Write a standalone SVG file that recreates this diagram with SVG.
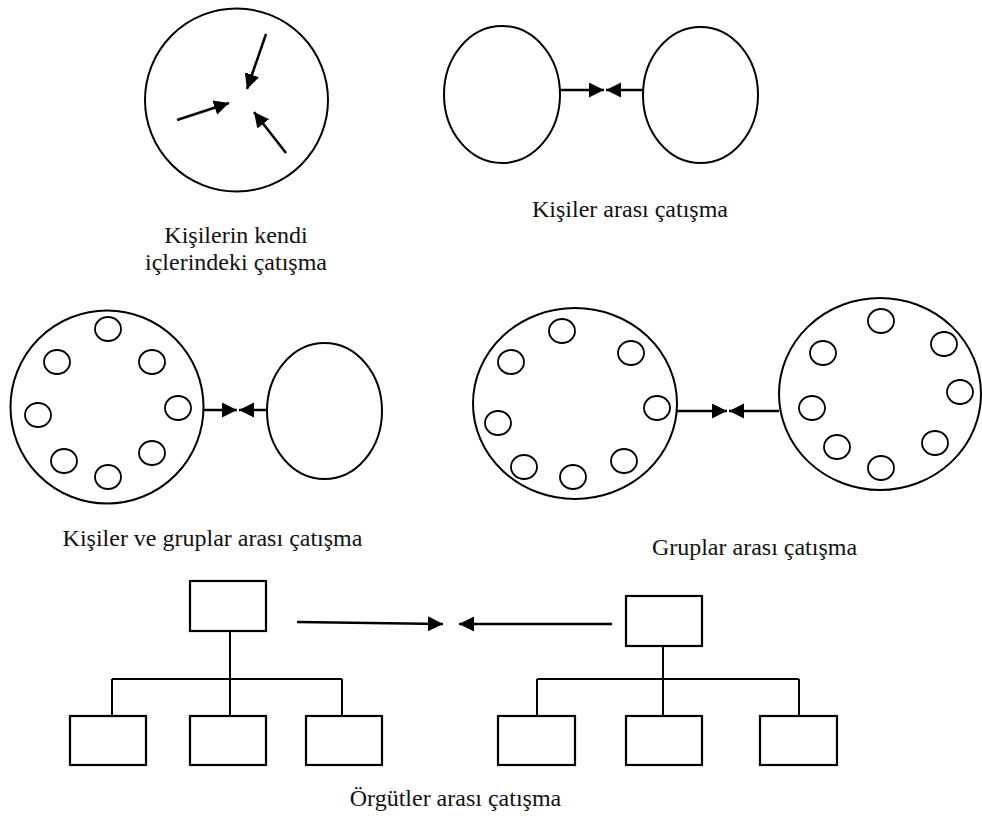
<svg xmlns="http://www.w3.org/2000/svg" width="982" height="817" viewBox="0 0 982 817">
  <style>
    .shape { fill: #fff; stroke: #000; stroke-width: 2; }
    .dot { fill: #fff; stroke: #000; stroke-width: 1.8; }
    .box { fill: #fff; stroke: #000; stroke-width: 2.2; }
    .wire { fill: none; stroke: #000; stroke-width: 2; }
    .arrow { fill: none; stroke: #000; stroke-width: 2.5; marker-end: url(#head); }
    .label { font-family: "Liberation Serif", "Times New Roman", serif; font-size: 24px; fill: #111; text-anchor: middle; }
  </style>
  <defs>
    <marker id="head" markerUnits="userSpaceOnUse" markerWidth="16" markerHeight="16" refX="15" refY="7.5" orient="auto">
      <path d="M0,0 L15,7.5 L0,15 z" fill="#000"/>
    </marker>
  </defs>

  <rect width="982" height="817" fill="#fff"/>

  <!-- Internal conflict: single person -->
  <g id="node-self">
    <circle class="shape" cx="236.5" cy="100" r="91.5"/>
    <text class="label" x="236" y="243">Kişilerin kendi</text>
    <text class="label" x="236" y="270">içlerindeki çatışma</text>
  </g>

  <!-- Interpersonal conflict -->
  <g id="node-person-a">
    <ellipse class="shape" cx="502" cy="94.5" rx="58" ry="68.5"/>
  </g>
  <g id="node-person-b">
    <ellipse class="shape" cx="700.5" cy="95" rx="57.5" ry="68"/>
  </g>
  <g id="label-interpersonal">
    <text class="label" x="630" y="217">Kişiler arası çatışma</text>
  </g>

  <!-- Person vs group -->
  <g id="node-group-1">
    <circle class="shape" cx="107" cy="407" r="96.5"/>
    <ellipse class="dot" cx="108" cy="329" rx="13" ry="12"/>
    <ellipse class="dot" cx="57" cy="362" rx="13" ry="12"/>
    <ellipse class="dot" cx="152" cy="362" rx="13" ry="12"/>
    <ellipse class="dot" cx="38" cy="415" rx="13" ry="12"/>
    <ellipse class="dot" cx="178" cy="408" rx="13" ry="12"/>
    <ellipse class="dot" cx="64" cy="461" rx="13" ry="12"/>
    <ellipse class="dot" cx="108" cy="477" rx="13" ry="12"/>
    <ellipse class="dot" cx="152" cy="453" rx="13" ry="12"/>
  </g>
  <g id="node-person-c">
    <ellipse class="shape" cx="324.5" cy="411" rx="57.5" ry="68"/>
  </g>
  <g id="label-person-group">
    <text class="label" x="212.5" y="546">Kişiler ve gruplar arası çatışma</text>
  </g>

  <!-- Group vs group -->
  <g id="node-group-2">
    <ellipse class="shape" cx="575" cy="403.5" rx="102" ry="95.5"/>
    <ellipse class="dot" cx="562" cy="331" rx="13" ry="12"/>
    <ellipse class="dot" cx="511" cy="362" rx="13" ry="12"/>
    <ellipse class="dot" cx="631" cy="353" rx="13" ry="12"/>
    <ellipse class="dot" cx="657" cy="408" rx="13" ry="12"/>
    <ellipse class="dot" cx="498" cy="423" rx="13" ry="12"/>
    <ellipse class="dot" cx="524" cy="467" rx="13" ry="12"/>
    <ellipse class="dot" cx="573" cy="477" rx="13" ry="12"/>
    <ellipse class="dot" cx="624" cy="461" rx="13" ry="12"/>
  </g>
  <g id="node-group-3">
    <ellipse class="shape" cx="880" cy="394" rx="101" ry="96"/>
    <ellipse class="dot" cx="881" cy="321" rx="13" ry="12"/>
    <ellipse class="dot" cx="944" cy="344" rx="13" ry="12"/>
    <ellipse class="dot" cx="823" cy="353" rx="13" ry="12"/>
    <ellipse class="dot" cx="960" cy="392" rx="13" ry="12"/>
    <ellipse class="dot" cx="812" cy="408" rx="13" ry="12"/>
    <ellipse class="dot" cx="837" cy="447" rx="13" ry="12"/>
    <ellipse class="dot" cx="935" cy="443" rx="13" ry="12"/>
    <ellipse class="dot" cx="881" cy="468" rx="13" ry="12"/>
  </g>
  <g id="label-group-group">
    <text class="label" x="754.5" y="555">Gruplar arası çatışma</text>
  </g>

  <!-- Organisation A -->
  <g id="node-org-a">
    <rect class="box" x="190" y="581" width="76" height="50"/>
    <rect class="box" x="70" y="716" width="76" height="49"/>
    <rect class="box" x="190" y="716" width="76" height="49"/>
    <rect class="box" x="306" y="716" width="76" height="49"/>
  </g>

  <!-- Organisation B -->
  <g id="node-org-b">
    <rect class="box" x="626" y="596" width="76" height="50"/>
    <rect class="box" x="498" y="716" width="77" height="49"/>
    <rect class="box" x="626" y="716" width="76" height="49"/>
    <rect class="box" x="760" y="716" width="77" height="49"/>
  </g>
  <g id="label-org">
    <text class="label" x="455.5" y="806">Örgütler arası çatışma</text>
  </g>

  <!-- Connectors -->
  <g id="connectors">
    <!-- inner arrows -->
    <line class="arrow" x1="266" y1="34" x2="247" y2="89"/>
    <line class="arrow" x1="177" y1="120" x2="229" y2="103"/>
    <line class="arrow" x1="286" y1="153" x2="254" y2="112"/>
    <!-- person vs person -->
    <line class="arrow" x1="560" y1="90" x2="604" y2="90"/>
    <line class="arrow" x1="643" y1="90" x2="606" y2="90"/>
    <!-- person vs group -->
    <line class="arrow" x1="204" y1="410" x2="237" y2="410"/>
    <line class="arrow" x1="267" y1="410" x2="239" y2="410"/>
    <!-- group vs group -->
    <line class="arrow" x1="677" y1="411" x2="727" y2="411"/>
    <line class="arrow" x1="779" y1="411" x2="729" y2="411"/>
    <!-- organisation vs organisation -->
    <line class="arrow" x1="297" y1="622" x2="443" y2="624"/>
    <line class="arrow" x1="612" y1="624" x2="459" y2="624"/>
    <!-- org chart A -->
    <path class="wire" d="M230,631 V716 M112,679 H342 M112,679 V716 M342,679 V716"/>
    <!-- org chart B -->
    <path class="wire" d="M663,646 V716 M537,679 H799 M537,679 V716 M799,679 V716"/>
  </g>
</svg>
